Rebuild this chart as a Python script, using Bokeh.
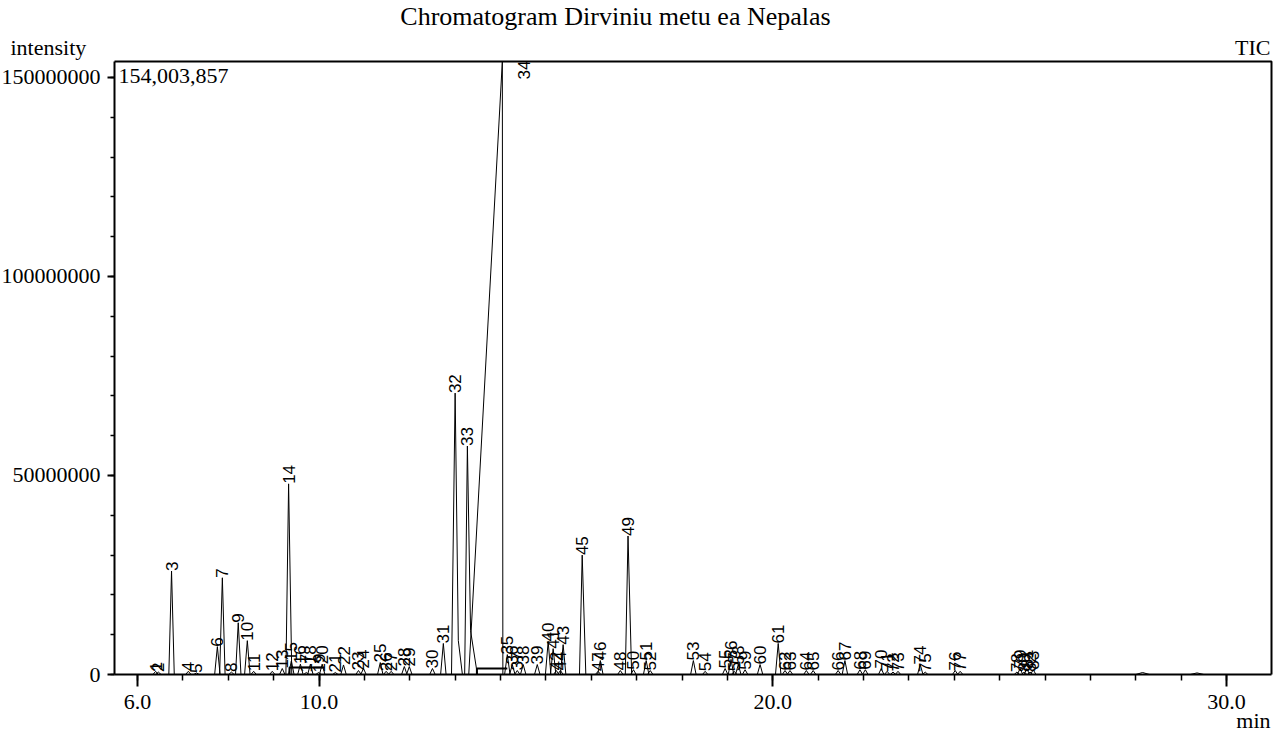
import math
from bokeh.plotting import figure
from bokeh.models import Range1d, FixedTicker, Label, ColumnDataSource, NumeralTickFormatter
from bokeh.embed import file_html
from bokeh.resources import INLINE
from bokeh.core.properties import value

# ---------------- data ----------------
peak_no = list(range(1, 84))
peak_rt = [6.40, 6.46, 6.75, 7.12, 7.30, 7.76, 7.87, 8.07, 8.22, 8.42,
           8.56, 8.97, 9.19, 9.33, 9.39, 9.59, 9.72, 9.81, 9.99, 10.07,
           10.36, 10.54, 10.87, 10.98, 11.35, 11.48, 11.59, 11.88, 11.99, 12.50,
           12.74, 13.00, 13.27, 14.04, 14.15, 14.26, 14.37, 14.50, 14.81, 15.05,
           15.16, 15.23, 15.38, 15.32, 15.80, 16.20, 16.15, 16.64, 16.81, 16.93,
           17.21, 17.30, 18.25, 18.51, 18.95, 19.08, 19.15, 19.24, 19.39, 19.72,
           20.12, 20.27, 20.38, 20.74, 20.89, 21.44, 21.59, 21.92, 22.04, 22.39,
           22.52, 22.65, 22.76, 23.25, 23.36, 24.02, 24.13, 25.38, 25.45, 25.54,
           25.60, 25.67, 25.74]
peak_h = [800000, 600000, 26000000, 800000, 400000, 7000000, 24300000, 600000, 13000000, 8500000,
          800000, 800000, 1500000, 47900000, 3400000, 2600000, 500000, 2600000, 500000, 2600000,
          500000, 2400000, 1000000, 1500000, 3000000, 800000, 800000, 2000000, 2000000, 1500000,
          7800000, 70700000, 57400000, 154003857, 5000000, 2500000, 1000000, 2500000, 2500000, 8300000,
          6500000, 1000000, 7500000, 1000000, 30000000, 3500000, 800000, 1000000, 34800000, 1200000,
          3500000, 1000000, 3500000, 800000, 1500000, 3800000, 800000, 2500000, 1200000, 2500000,
          7800000, 1000000, 1000000, 1000000, 1000000, 1000000, 3500000, 1200000, 1200000, 1500000,
          800000, 600000, 800000, 2500000, 600000, 1000000, 800000, 600000, 1500000, 600000,
          1500000, 600000, 1200000]

# peak half widths (min) at the base; peaks not listed use the default
default_half_width = (0.06, 0.06)
peak_half_width = {3: (0.06, 0.06), 14: (0.06, 0.07), 32: (0.08, 0.16),
                   33: (0.06, 0.22), 34: (0.74, 0.012), 45: (0.06, 0.08), 49: (0.06, 0.08)}
# knee points on the tailing side of the big peaks (time, intensity)
tail_knee = {32: (13.07, 8500000), 33: (13.34, 11000000)}

# small unlabelled humps late in the run
hump_rt = [28.15, 29.35]
hump_h = [500000, 400000]

# integration baselines
bl1_t = [9.35, 9.35, 10.10]
bl1_i = [0, 1750000, 1750000]
bl2_t = [13.48, 13.48, 14.15]
bl2_i = [0, 1500000, 1500000]

# label of peak 34 placed beside its clipped apex
label_override = {34: (14.52, 149500000)}

x_ticks = [6, 10, 20, 30]
y_ticks = [0, 50000000, 100000000, 150000000]
y_max = 154003857
x_lo, x_hi = 5.493, 30.991

# ---------------- layout (pixels) ----------------
W, H = 1273, 736
FL, FR, FT, FB = 114, 1271, 61, 674       # plot box edges on the canvas
min_per_px = (x_hi - x_lo) / (FR - FL)
int_per_px = y_max / (FB - FT)
x_range = Range1d(x_lo - FL * min_per_px, x_hi + (W - FR) * min_per_px)
y_range = Range1d(-(H - FB) * int_per_px, y_max + FT * int_per_px)

p = figure(width=W, height=H, output_backend="svg", toolbar_location=None,
           x_range=x_range, y_range=y_range,
           min_border_left=0, min_border_right=0, min_border_top=0, min_border_bottom=0)
p.min_border = 0
p.title.visible = False
p.background_fill_color = "white"
p.border_fill_color = "white"
p.outline_line_color = None
p.xgrid.visible = False
p.ygrid.visible = False

# top and right edges of the plot box
p.line([x_lo, x_hi, x_hi], [y_max, y_max, 0], line_color="black", line_width=2)

# trace built per peak
xs, ys = [], []
for n, t, h in zip(peak_no, peak_rt, peak_h):
    lw, rw = peak_half_width.get(n, default_half_width)
    px = [t - lw, t]
    py = [0, h]
    if n in tail_knee:
        kt, ki = tail_knee[n]
        px.append(kt)
        py.append(ki)
    px.append(t + rw)
    py.append(0)
    xs.append(px)
    ys.append(py)
for t, h in zip(hump_rt, hump_h):
    xs.append([t - 0.15, t, t + 0.15])
    ys.append([0, h, 0])
p.multi_line(xs, ys, line_color="black", line_width=1)

p.line(bl1_t, bl1_i, line_color="black", line_width=2)
p.line(bl2_t, bl2_i, line_color="black", line_width=2)

# peak number labels
lt, li = [], []
for n, t, h in zip(peak_no, peak_rt, peak_h):
    if n in label_override:
        t, h = label_override[n]
    lt.append(t)
    li.append(h)
src = ColumnDataSource(dict(t=lt, i=li, txt=[str(n) for n in peak_no]))
p.text(x="t", y="i", text="txt", source=src, angle=math.pi / 2,
       text_align="left", text_baseline="middle",
       text_font=value("Liberation Sans"), text_font_size="17px", text_color="black")

# axes, pinned to the plot box edges
for ax in (p.xaxis[0], p.yaxis[0]):
    ax.axis_line_width = 2
    ax.axis_line_color = "black"
    ax.major_tick_line_width = 2
    ax.minor_tick_line_width = 1.5
    ax.major_tick_in = 0
    ax.minor_tick_in = 0
    ax.major_label_text_font = "Liberation Serif"
    ax.major_label_text_color = "black"

p.xaxis.fixed_location = 0
p.xaxis.bounds = (x_lo, x_hi)
p.xaxis.ticker = FixedTicker(ticks=x_ticks, minor_ticks=list(range(6, 31)))
p.xaxis.formatter = NumeralTickFormatter(format="0.0")
p.xaxis.major_tick_out = 12
p.xaxis.minor_tick_out = 6
p.xaxis.major_label_text_font_size = "22px"
p.xaxis.major_label_standoff = 8

p.yaxis.fixed_location = x_lo
p.yaxis.bounds = (0, y_max)
p.yaxis.ticker = FixedTicker(ticks=y_ticks, minor_ticks=list(range(0, 160000000, 10000000)))
p.yaxis.formatter = NumeralTickFormatter(format="0")
p.yaxis.major_tick_out = 7
p.yaxis.minor_tick_out = 4
p.yaxis.major_label_text_font_size = "22px"
p.yaxis.major_label_standoff = 7

# texts around the plot box, in screen units (from the canvas' bottom-left corner);
# the second number is the wanted baseline measured from the top of the canvas
texts = [
    ("Chromatogram Dirviniu metu ea Nepalas", 615, 24, "center", "26px"),
    ("intensity", 10, 55, "left", "22px"),
    ("TIC", 1270, 55, "right", "22px"),
    ("154,003,857", 118, 83, "left", "22px"),
    ("min", 1270, 728, "right", "22px"),
]
for txt, x, top, al, fs in texts:
    p.add_layout(Label(x=x, y=H - top + 8, x_units="screen", y_units="screen", text=txt,
                       text_align=al, text_baseline="alphabetic",
                       text_font="Liberation Serif", text_font_size=fs, text_color="black"))

open("out.html", "w").write(file_html(p, INLINE))
